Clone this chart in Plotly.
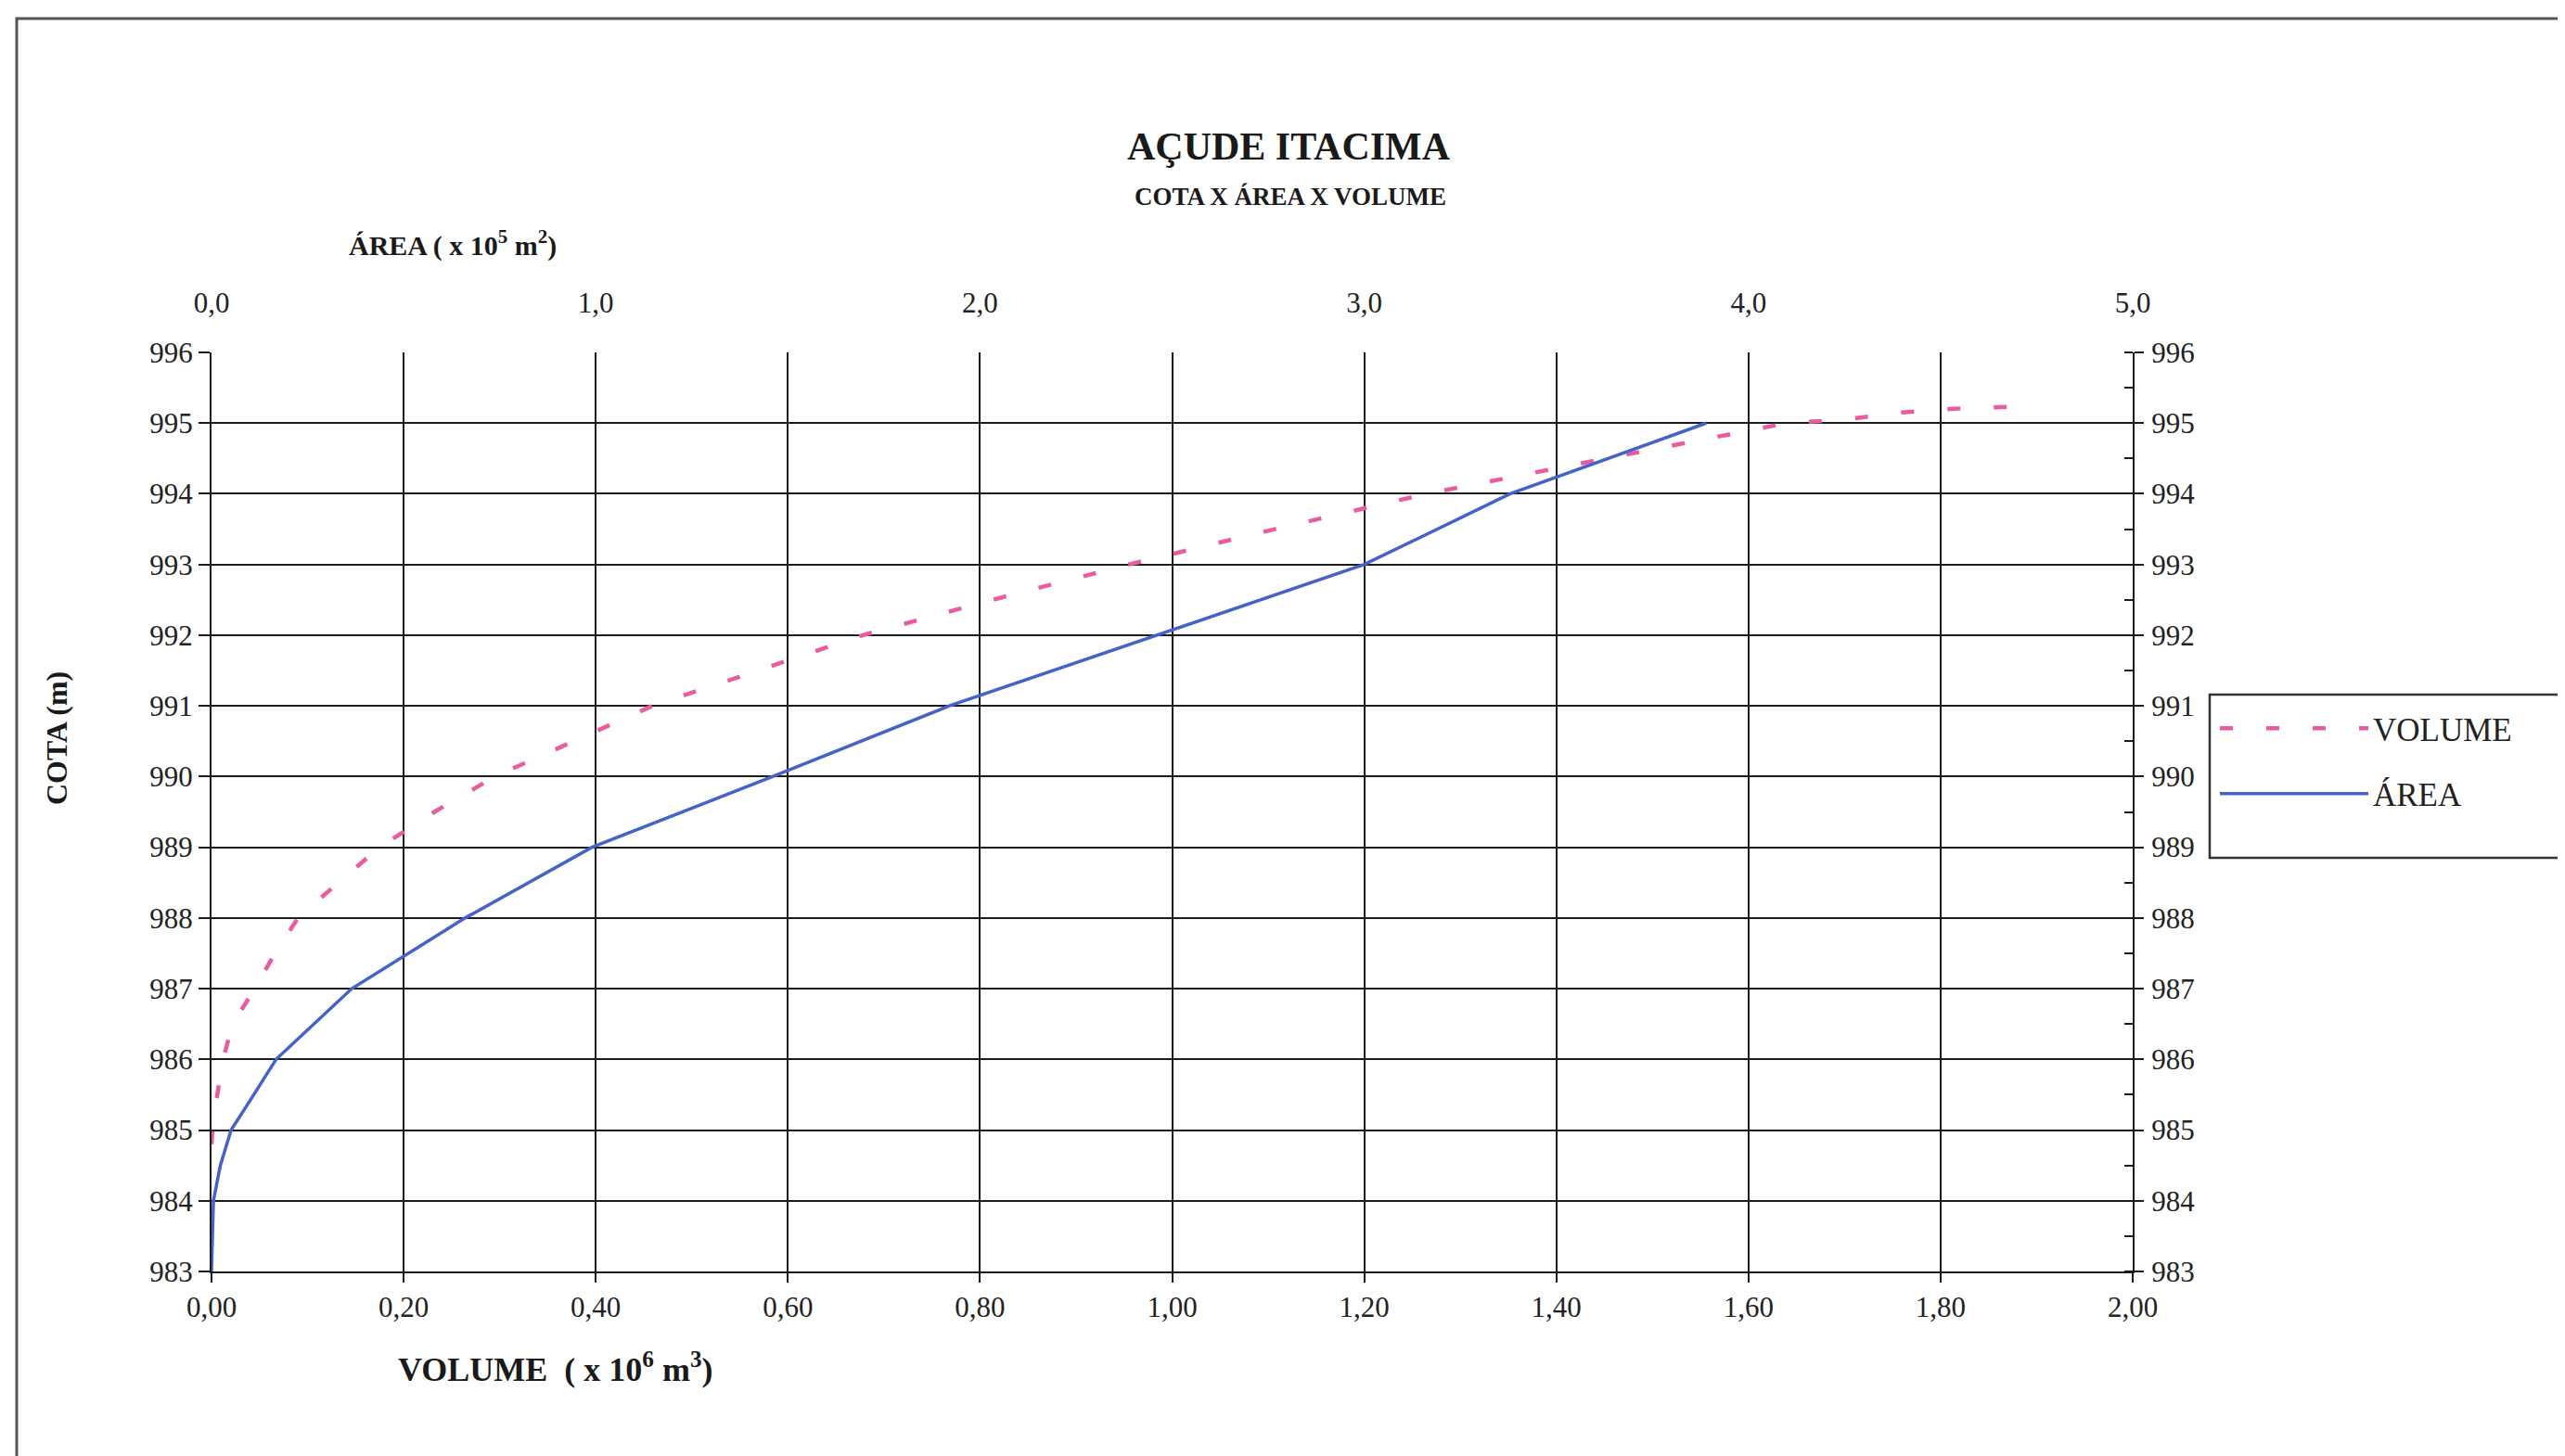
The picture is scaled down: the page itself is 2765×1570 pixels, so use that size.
import plotly.graph_objects as go

# ---- data ----
cota_area = [983.0, 984.0, 984.5, 985.0, 985.5, 986.0, 987.0, 988.0, 989.0, 990.0, 991.0, 992.0, 993.0, 994.0, 995.0]
area_1e5 = [0.0, 0.005, 0.023, 0.051, 0.11, 0.168, 0.365, 0.66, 0.99, 1.46, 1.92, 2.46, 3.00, 3.38, 3.89]

cota_vol = [984.8, 985.0, 985.5, 986.0, 986.5, 987.0, 987.5, 988.0, 988.5, 989.0, 989.5, 990.0, 990.5,
            991.0, 991.5, 992.0, 992.5, 993.0, 993.5, 994.0, 994.5, 995.0, 995.05, 995.15, 995.2, 995.23]
volume_1e6 = [0.0, 0.001, 0.006, 0.012, 0.022, 0.045, 0.066, 0.090, 0.132, 0.175, 0.232, 0.295, 0.377,
              0.459, 0.569, 0.678, 0.813, 0.955, 1.107, 1.265, 1.452, 1.640, 1.700, 1.760, 1.810, 1.870]

vol_ticks = [0.0, 0.2, 0.4, 0.6, 0.8, 1.0, 1.2, 1.4, 1.6, 1.8, 2.0]
vol_ticktext = ["0,00", "0,20", "0,40", "0,60", "0,80", "1,00", "1,20", "1,40", "1,60", "1,80", "2,00"]
area_ticks = [0, 1, 2, 3, 4, 5]
area_ticktext = ["0,0", "1,0", "2,0", "3,0", "4,0", "5,0"]
cota_ticks = list(range(983, 997))

title_text = "AÇUDE ITACIMA"
subtitle_text = "COTA X ÁREA X VOLUME"

# ---- layout geometry ----
W, H = 2765, 1570
L, R, T, B = 220, 2291, 372, 1363
def px(x):
    return (x - L) / (R - L)
def py(y):
    return (B - y) / (B - T)

FONT = "Liberation Serif, Times New Roman, serif"
GRID = "#1c1c1c"

fig = go.Figure()
fig.add_trace(go.Scatter(
    x=volume_1e6, y=cota_vol, name="VOLUME", mode="lines", legendgroup="v",
    line=dict(color="#EA5BA2", width=4.5, dash="14px,36px"),
    xaxis="x", yaxis="y"))
fig.add_trace(go.Scatter(
    x=area_1e5, y=cota_area, name="ÁREA", mode="lines", legendgroup="a",
    line=dict(color="#4463C8", width=3.5),
    xaxis="x2", yaxis="y2"))

tickfont = dict(family=FONT, size=31, color="#222")

fig.update_layout(
    width=W, height=H,
    margin=dict(l=L, r=W - R, t=T, b=H - B, pad=0),
    paper_bgcolor="white", plot_bgcolor="white",
    separators=",.",
    font=dict(family=FONT, color="#222"),
    showlegend=True,
    legend=dict(
        x=px(2380), y=py(748), xanchor="left", yanchor="top",
        borderwidth=0, bgcolor="rgba(0,0,0,0)",
        font=dict(family=FONT, size=35, color="#222"),
        itemwidth=160, tracegroupgap=22,
    ),
    xaxis=dict(
        range=[0, 2], tickmode="array", tickvals=vol_ticks, ticktext=vol_ticktext,
        showgrid=True, gridcolor=GRID, gridwidth=2,
        showline=True, linecolor=GRID, linewidth=2,
        ticks="outside", ticklen=10, tickcolor=GRID, tickwidth=2,
        ticklabelstandoff=0, tickfont=tickfont, zeroline=False,
    ),
    xaxis2=dict(
        range=[0, 5], overlaying="x", side="top", anchor="y2", tickmode="array",
        tickvals=area_ticks, ticktext=area_ticktext,
        showgrid=False, showline=False, ticks="", ticklabelstandoff=36,
        tickfont=tickfont, zeroline=False,
    ),
    yaxis=dict(
        range=[983, 996], tickmode="array", tickvals=cota_ticks,
        showgrid=True, gridcolor=GRID, gridwidth=2,
        showline=True, linecolor=GRID, linewidth=2,
        ticks="outside", ticklen=12, tickcolor=GRID, tickwidth=2,
        ticklabelstandoff=0, tickfont=tickfont, zeroline=False,
    ),
    yaxis2=dict(
        range=[983, 996], overlaying="y", side="right", anchor="x2", tickmode="array",
        tickvals=cota_ticks, showgrid=False,
        showline=True, linecolor=GRID, linewidth=2,
        ticks="outside", ticklen=10, tickcolor=GRID, tickwidth=2,
        minor=dict(dtick=0.5, tick0=983, ticks="inside", ticklen=9, tickcolor=GRID, tickwidth=2, showgrid=False),
        ticklabelstandoff=2, tickfont=tickfont, zeroline=False,
    ),
    annotations=[
        dict(text="<b>" + title_text + "</b>", xref="paper", yref="paper",
             x=px(1381), y=py(150), xanchor="center", yanchor="middle",
             showarrow=False, font=dict(family=FONT, size=42, color="#1a1a1a")),
        dict(text="<b>" + subtitle_text + "</b>", xref="paper", yref="paper",
             x=px(1383), y=py(204), xanchor="center", yanchor="middle",
             showarrow=False, font=dict(family=FONT, size=27, color="#1a1a1a")),
        dict(text="<b>ÁREA ( x 10<sup>5</sup> m<sup>2</sup>)</b>", xref="paper", yref="paper",
             x=px(480), y=py(254), xanchor="center", yanchor="middle",
             showarrow=False, font=dict(family=FONT, size=30, color="#1a1a1a")),
        dict(text="<b>VOLUME  ( x 10<sup>6</sup> m<sup>3</sup>)</b>", xref="paper", yref="paper",
             x=px(590), y=py(1466), xanchor="center", yanchor="middle",
             showarrow=False, font=dict(family=FONT, size=36, color="#1a1a1a")),
        dict(text="<b>COTA (m)</b>", xref="paper", yref="paper",
             x=px(53), y=py(788), xanchor="center", yanchor="middle", textangle=-90,
             showarrow=False, font=dict(family=FONT, size=32, color="#1a1a1a")),
    ],
    shapes=[
        dict(type="rect", xref="paper", yref="paper",
             x0=px(10), x1=px(2757), y0=py(1566), y1=py(12),
             line=dict(color="#555", width=3), fillcolor="rgba(0,0,0,0)", layer="below"),
        dict(type="rect", xref="paper", yref="paper",
             x0=px(2374), x1=px(2754), y0=py(917), y1=py(741),
             line=dict(color="#333", width=2.5), fillcolor="rgba(0,0,0,0)", layer="below"),
    ],
)

fig.write_html("out.html")
